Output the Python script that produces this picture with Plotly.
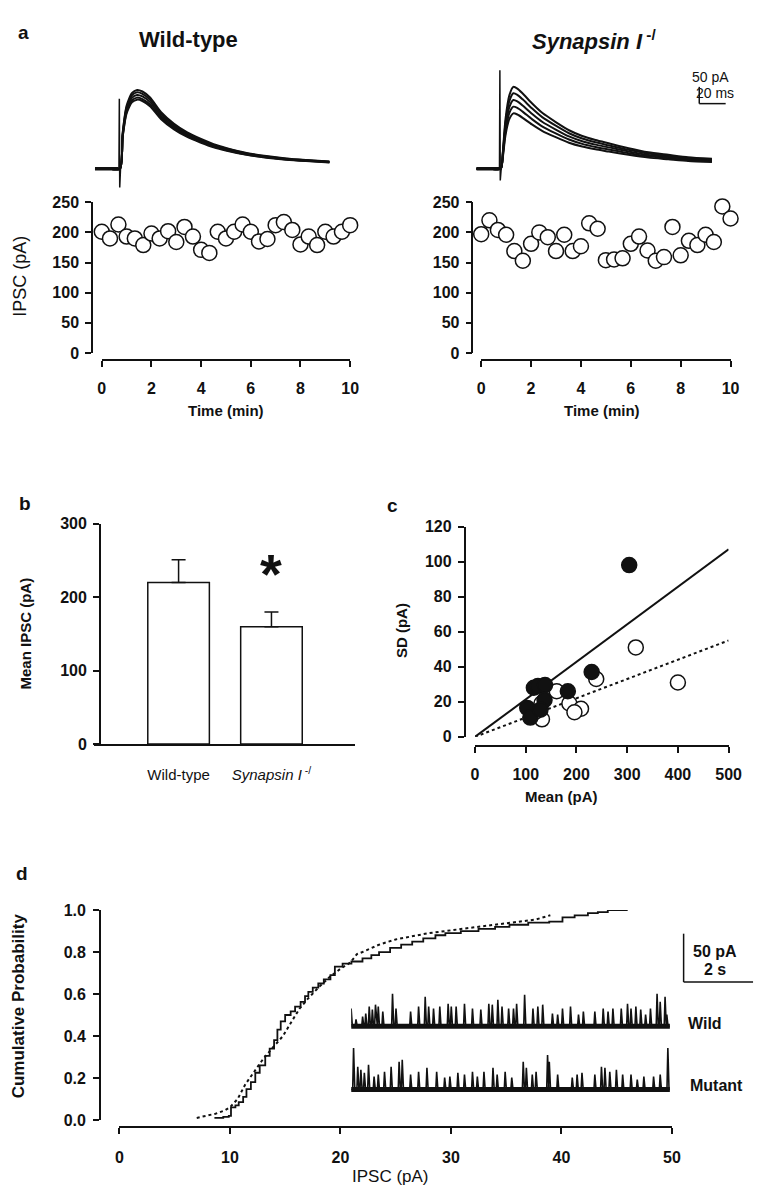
import plotly.graph_objects as go

W, H = 768, 1199
def X(px): return px / W
def Y(py): return 1 - py / H

FONT = "Liberation Sans, Arial, Helvetica, sans-serif"
INK = "#111111"

# ---------------- Panel a: example IPSC traces ----------------
TRACE_T_LEFT = [0, 10, 19, 21, 24, 28, 32, 36, 42, 50, 60, 70, 80, 90, 100, 115, 130, 145, 160, 178]
TRACE_SHAPE_LEFT = [0, 0, 0, 0.45, 0.8, 0.96, 1.0, 0.98, 0.9, 0.72, 0.57, 0.46, 0.38, 0.31, 0.26, 0.2, 0.16, 0.13, 0.11, 0.09]
PEAKS_LEFT = [235, 228, 220, 212, 206]
ART_T_LEFT = [18.2, 18.5, 18.8, 19.4]
ART_LEFT = [0, 209, -56, 0]

TRACE_T_RIGHT = [0, 10, 18.5, 20, 22, 25, 28, 31, 35, 42, 50, 60, 70, 80, 90, 100, 115, 130, 145, 160, 178]
TRACE_SHAPE_RIGHT = [0, 0, 0, 0.2, 0.6, 0.9, 1.0, 0.98, 0.92, 0.8, 0.68, 0.57, 0.47, 0.4, 0.35, 0.31, 0.25, 0.2, 0.17, 0.14, 0.12]
PEAKS_RIGHT = [244, 225, 205, 185, 165]
ART_T_RIGHT = [17.5, 17.8, 18.1, 18.8]
ART_RIGHT = [0, 294, -35, 0]

# ---------------- Panel a: IPSC amplitude vs time ----------------
TIME_MIN = [0, 0.33, 0.67, 1, 1.33, 1.67, 2, 2.33, 2.67, 3, 3.33, 3.67, 4, 4.33, 4.67, 5,
            5.33, 5.67, 6, 6.33, 6.67, 7, 7.33, 7.67, 8, 8.33, 8.67, 9, 9.33, 9.67, 10]
IPSC_WT = [201, 190, 213, 193, 190, 179, 198, 190, 202, 184, 209, 193, 171, 166, 201, 190,
           201, 213, 201, 185, 189, 212, 217, 204, 180, 193, 179, 201, 193, 201, 212]
IPSC_KO = [197, 220, 204, 196, 169, 153, 181, 200, 192, 169, 196, 169, 177, 215, 206, 154,
           155, 157, 181, 193, 170, 153, 159, 209, 162, 186, 179, 196, 184, 243, 223]

# ---------------- Panel b ----------------
GROUPS = ["Wild-type", "<i>Synapsin I</i><sup> -/</sup>"]
MEAN_IPSC = [220, 160]
SEM_IPSC = [31, 20]

# ---------------- Panel c ----------------
WT_MEAN = [317, 400, 239, 161, 186, 209, 196, 132, 131, 118]
WT_SD = [51, 31, 33, 26, 19, 16, 14, 10, 19, 14]
KO_MEAN = [304, 230, 183, 116, 124, 138, 137, 103, 109, 129]
KO_SD = [98, 37, 26, 28, 29, 29.5, 21, 16.5, 11, 15.5]
FIT_X = [0, 500]
FIT_KO = [0, 107]
FIT_WT = [0, 55]

# ---------------- Panel d ----------------
CDF_SOLID_X = [8.6, 9.4, 9.9, 10.1, 10.5, 10.8, 11.2, 11.5, 11.9, 12.3, 12.7, 13.2, 13.6, 14.0, 14.3, 14.6,
               15.0, 15.5, 15.9, 16.4, 16.8, 17.1, 17.5, 18.0, 18.5, 19.1, 19.5, 20.2, 21.0, 22.0, 22.8,
               23.5, 24.5, 25.5, 26.5, 27.5, 28.6, 29.5, 30.9, 32.5, 34.0, 35.3, 37.0, 38.9, 40.1, 41.2,
               42.4, 43.3, 44.2, 46.0]
CDF_SOLID_Y = [0.01, 0.015, 0.02, 0.06, 0.07, 0.085, 0.11, 0.147, 0.18, 0.225, 0.26, 0.305, 0.34, 0.38, 0.43,
               0.47, 0.50, 0.517, 0.54, 0.563, 0.59, 0.61, 0.63, 0.65, 0.67, 0.69, 0.73, 0.745, 0.755, 0.77,
               0.785, 0.80, 0.82, 0.835, 0.85, 0.865, 0.88, 0.89, 0.90, 0.91, 0.92, 0.93, 0.94, 0.945, 0.965,
               0.975, 0.985, 0.99, 1.0, 1.0]
CDF_DOT_X = [7.0, 8.0, 8.7, 9.5, 10.0, 10.7, 11.4, 12.2, 13.0, 13.8, 14.8, 15.6, 16.3, 17.1, 18.0, 19.0,
             20.0, 20.9, 21.5, 22.0, 23.5, 25.0, 26.5, 28.0, 29.5, 31.0, 32.5, 34.0, 35.3, 36.5, 37.7, 39.0]
CDF_DOT_Y = [0.01, 0.02, 0.03, 0.045, 0.06, 0.1, 0.17, 0.23, 0.29, 0.34, 0.40, 0.47, 0.53, 0.58, 0.63, 0.68,
             0.72, 0.75, 0.79, 0.80, 0.835, 0.86, 0.875, 0.89, 0.90, 0.91, 0.92, 0.93, 0.94, 0.95, 0.955, 0.975]

# spontaneous IPSC sample traces (spike times in s, amplitudes in pA)
WILD_T = [0.0, 0.14, 0.33, 0.42, 0.52, 0.61, 0.70, 0.78, 0.91, 1.19, 1.29, 1.71, 1.94, 2.13, 2.23, 2.37,
          2.55, 2.79, 2.88, 3.02, 3.26, 3.49, 3.73, 3.96, 4.06, 4.22, 4.34, 4.53, 4.67, 4.76, 4.99, 5.23,
          5.37, 5.51, 5.79, 5.94, 6.08, 6.31, 6.54, 6.68, 7.01, 7.25, 7.39, 7.53, 7.77, 7.95, 8.05, 8.19,
          8.33, 8.47, 8.61, 8.80, 8.89, 9.03, 9.08]
WILD_A = [18, 7, 10, 13, 20, 17, 22, 20, 15, 33, 18, 15, 20, 30, 20, 18,
          20, 23, 20, 20, 23, 18, 17, 23, 22, 27, 20, 18, 18, 23, 32, 18,
          20, 22, 13, 12, 18, 20, 12, 15, 15, 18, 15, 18, 18, 23, 18, 20,
          17, 12, 18, 33, 25, 30, 12]
MUT_T = [0.07, 0.19, 0.28, 0.38, 0.50, 0.66, 0.78, 0.96, 1.15, 1.38, 1.47, 1.71, 1.94, 2.18, 2.46, 2.69,
         2.84, 3.07, 3.26, 3.49, 3.63, 3.82, 4.08, 4.20, 4.43, 4.62, 4.95, 5.04, 5.21, 5.32, 5.65, 5.70,
         5.94, 6.36, 6.50, 6.64, 7.01, 7.20, 7.30, 7.44, 7.63, 7.81, 8.05, 8.23, 8.42, 8.70, 8.89, 9.11]
MUT_A = [42, 23, 20, 17, 25, 13, 15, 18, 23, 28, 30, 15, 18, 22, 18, 12,
         13, 17, 15, 18, 13, 18, 22, 15, 18, 12, 28, 22, 15, 18, 35, 28,
         15, 12, 15, 17, 15, 23, 22, 18, 20, 15, 15, 10, 13, 13, 15, 42]
SWEEP_END = 9.17
WILD_BASE = 0
MUT_BASE = -64

fig = go.Figure()

# ---- panel a traces ----
for pk in PEAKS_LEFT:
    fig.add_trace(go.Scatter(x=TRACE_T_LEFT, y=[pk * s for s in TRACE_SHAPE_LEFT], mode="lines",
                             line=dict(color=INK, width=2, shape="spline", smoothing=0.6),
                             xaxis="x", yaxis="y", hoverinfo="skip"))
fig.add_trace(go.Scatter(x=ART_T_LEFT, y=ART_LEFT, mode="lines", line=dict(color=INK, width=1.5),
                         xaxis="x", yaxis="y", hoverinfo="skip"))
fig.add_trace(go.Scatter(x=[0, 18], y=[0, 0], mode="lines", line=dict(color=INK, width=3.5),
                         xaxis="x", yaxis="y", hoverinfo="skip"))
for pk in PEAKS_RIGHT:
    fig.add_trace(go.Scatter(x=TRACE_T_RIGHT, y=[pk * s for s in TRACE_SHAPE_RIGHT], mode="lines",
                             line=dict(color=INK, width=2, shape="spline", smoothing=0.6),
                             xaxis="x2", yaxis="y2", hoverinfo="skip"))
fig.add_trace(go.Scatter(x=ART_T_RIGHT, y=ART_RIGHT, mode="lines", line=dict(color=INK, width=1.5),
                         xaxis="x2", yaxis="y2", hoverinfo="skip"))
fig.add_trace(go.Scatter(x=[0, 17.5], y=[0, 0], mode="lines", line=dict(color=INK, width=3.5),
                         xaxis="x2", yaxis="y2", hoverinfo="skip"))

# ---- panel a scatter ----
open_marker = dict(symbol="circle", size=15, color="white", line=dict(color=INK, width=1.5))
fig.add_trace(go.Scatter(x=TIME_MIN, y=IPSC_WT, mode="markers", marker=open_marker, cliponaxis=False,
                         xaxis="x3", yaxis="y3"))
fig.add_trace(go.Scatter(x=TIME_MIN, y=IPSC_KO, mode="markers", marker=open_marker, cliponaxis=False,
                         xaxis="x4", yaxis="y4"))

# ---- panel b ----
fig.add_trace(go.Bar(x=[1, 2], y=MEAN_IPSC, width=0.663,
                     marker=dict(color="white", line=dict(color=INK, width=1.5)),
                     error_y=dict(type="data", array=SEM_IPSC, arrayminus=[0, 0], symmetric=False,
                                  color=INK, thickness=1.5, width=7),
                     xaxis="x5", yaxis="y5"))

# ---- panel c ----
fig.add_trace(go.Scatter(x=FIT_X, y=FIT_KO, mode="lines", line=dict(color=INK, width=2),
                         xaxis="x6", yaxis="y6"))
fig.add_trace(go.Scatter(x=FIT_X, y=FIT_WT, mode="lines", line=dict(color=INK, width=2, dash="dot"),
                         xaxis="x6", yaxis="y6"))
fig.add_trace(go.Scatter(x=WT_MEAN, y=WT_SD, mode="markers", marker=dict(symbol="circle", size=15, color="white",
                         line=dict(color=INK, width=1.5)), cliponaxis=False, xaxis="x6", yaxis="y6"))
fig.add_trace(go.Scatter(x=KO_MEAN, y=KO_SD, mode="markers", marker=dict(symbol="circle", size=15, color=INK,
                         line=dict(color=INK, width=1.5)), cliponaxis=False, xaxis="x6", yaxis="y6"))

# ---- panel d ----
fig.add_trace(go.Scatter(x=CDF_DOT_X, y=CDF_DOT_Y, mode="lines", line=dict(color=INK, width=2, dash="dot"),
                         xaxis="x7", yaxis="y7"))
fig.add_trace(go.Scatter(x=CDF_SOLID_X, y=CDF_SOLID_Y, mode="lines", line=dict(color=INK, width=1.8, shape="hv"),
                         xaxis="x7", yaxis="y7"))

def spike_path(times, amps, base):
    xs, ys = [0], [base]
    for t, a in zip(times, amps):
        xs += [t - 0.025, t, t + 0.035]
        ys += [base, base + a, base]
    xs.append(SWEEP_END)
    ys.append(base)
    return xs, ys

for times, amps, base in [(WILD_T, WILD_A, WILD_BASE), (MUT_T, MUT_A, MUT_BASE)]:
    fig.add_trace(go.Scatter(x=[0, SWEEP_END], y=[base, base], mode="lines", line=dict(color=INK, width=5),
                             xaxis="x8", yaxis="y8"))
    xs, ys = spike_path(times, amps, base)
    fig.add_trace(go.Scatter(x=xs, y=ys, mode="lines", line=dict(color=INK, width=1.6),
                             xaxis="x8", yaxis="y8"))

# ---------------- axes ----------------
tickfont = dict(family=FONT, size=16, color=INK, weight="bold")
hidden = dict(visible=False, showgrid=False, zeroline=False, fixedrange=True)
common = dict(showgrid=False, zeroline=False, showline=True, linecolor=INK, linewidth=1.5,
              ticks="outside", tickcolor=INK, tickwidth=1.5, ticklen=6, tickfont=tickfont)

TR_Y = [-(195 - 163) / 17 * 50, (163 - 55) / 17 * 50]

layout = dict(
    width=W, height=H, margin=dict(l=0, r=0, t=0, b=0),
    paper_bgcolor="white", plot_bgcolor="white", showlegend=False,
    xaxis=dict(domain=[X(93), X(333)], range=[0, 178], anchor="y", **hidden),
    yaxis=dict(domain=[Y(195), Y(55)], range=TR_Y, anchor="x", **hidden),
    xaxis2=dict(domain=[X(483), X(724)], range=[0, 178], anchor="y2", **hidden),
    yaxis2=dict(domain=[Y(195), Y(55)], range=TR_Y, anchor="x2", **hidden),
    xaxis3=dict(domain=[X(100), X(354)], range=[0, 10], dtick=2, anchor="free", position=Y(357),
                ticklabelstandoff=8, **common),
    yaxis3=dict(domain=[Y(350), Y(197)], range=[0, 250], dtick=50, anchor="free", position=X(90),
                ticklabelstandoff=3, **common),
    xaxis4=dict(domain=[X(488), X(743)], range=[0, 10], dtick=2, anchor="free", position=Y(357),
                ticklabelstandoff=8, **common),
    yaxis4=dict(domain=[Y(350), Y(197)], range=[0, 250], dtick=50, anchor="free", position=X(479),
                ticklabelstandoff=3, **common),
    xaxis5=dict(domain=[X(92), X(359)], range=[0.089, 2.9], anchor="y5", showgrid=False, zeroline=False,
                showline=True, linecolor=INK, linewidth=1.5, ticks="", tickvals=[1, 2], ticktext=GROUPS,
                tickfont=dict(family=FONT, size=15, color=INK), ticklabelstandoff=16),
    yaxis5=dict(domain=[Y(746.7), Y(523.3)], range=[0, 300], dtick=100, anchor="free", position=X(98),
                ticklabelstandoff=3, **common),
    xaxis6=dict(domain=[X(481.7), X(741)], range=[0, 500], dtick=100, anchor="free", position=Y(749),
                ticklabelstandoff=8, **common),
    yaxis6=dict(domain=[Y(739.3), Y(526)], range=[0, 120], dtick=20, anchor="free", position=X(471),
                ticklabelstandoff=3, **common),
    xaxis7=dict(domain=[X(118), X(683)], range=[0, 50], dtick=10, anchor="free", position=Y(1135),
                ticklabelstandoff=10, **common),
    yaxis7=dict(domain=[Y(1128), Y(915)], range=[0, 1], dtick=0.2, tickformat=".1f", anchor="free",
                position=X(98), ticklabelstandoff=4, **common),
    xaxis8=dict(domain=[X(355), X(681)], range=[0, SWEEP_END], anchor="y8", **hidden),
    yaxis8=dict(domain=[Y(1110), Y(985)], range=[-(1110 - 1033), 1033 - 985], anchor="x8", **hidden),
)
fig.update_layout(**layout)

def ann(text, x, y, size, bold=False, angle=0, xanchor="center"):
    fig.add_annotation(text=text, x=X(x), y=Y(y), xref="paper", yref="paper", showarrow=False,
                       xanchor=xanchor, yanchor="middle", textangle=angle,
                       font=dict(family=FONT, size=size, color=INK, weight="bold" if bold else "normal"))

# panel letters
ann("a", 20, 25, 19, bold=True)
ann("b", 21, 503, 19, bold=True)
ann("c", 397, 505, 19, bold=True)
ann("d", 18, 878, 19, bold=True)
# panel a titles
ann("Wild-type", 189, 32, 22, bold=True)
ann("<i>Synapsin I</i><sup> -/</sup>", 603, 32, 22, bold=True)
ann("IPSC (pA)", 16, 272, 18, angle=-90)
ann("Time (min)", 227, 408, 15, bold=True)
ann("Time (min)", 612, 408, 15, bold=True)
ann("50 pA", 723, 70, 14)
ann("20 ms", 727, 86, 14)
# panel b
ann("Mean IPSC (pA)", 22, 635, 15, bold=True, angle=-90)
ann("*", 273, 574, 56, bold=True)
# panel c
ann("SD (pA)", 406, 632, 15, bold=True, angle=-90)
ann("Mean (pA)", 570, 800, 15, bold=True)
# panel d
ann("Cumulative Probability", 15, 1012, 17, bold=True, angle=-90)
ann("IPSC (pA)", 395, 1185, 17)
ann("50 pA", 727, 957, 16, bold=True)
ann("2 s", 727, 975, 16, bold=True)
ann("Wild", 717, 1030, 16, bold=True)
ann("Mutant", 729, 1093, 16, bold=True)

# scale bars (paper coordinates)
def seg(x0, y0, x1, y1):
    fig.add_shape(type="line", xref="paper", yref="paper", x0=X(x0), y0=Y(y0), x1=X(x1), y1=Y(y1),
                  line=dict(color=INK, width=1.5))
seg(711, 80, 711, 97)
seg(711, 97, 738, 97)
seg(695, 939, 695, 988)
seg(695, 988, 766, 988)

fig.write_html("out.html", config={"displayModeBar": False},
               post_script="document.body.style.margin='0';document.body.style.overflow='hidden';")
